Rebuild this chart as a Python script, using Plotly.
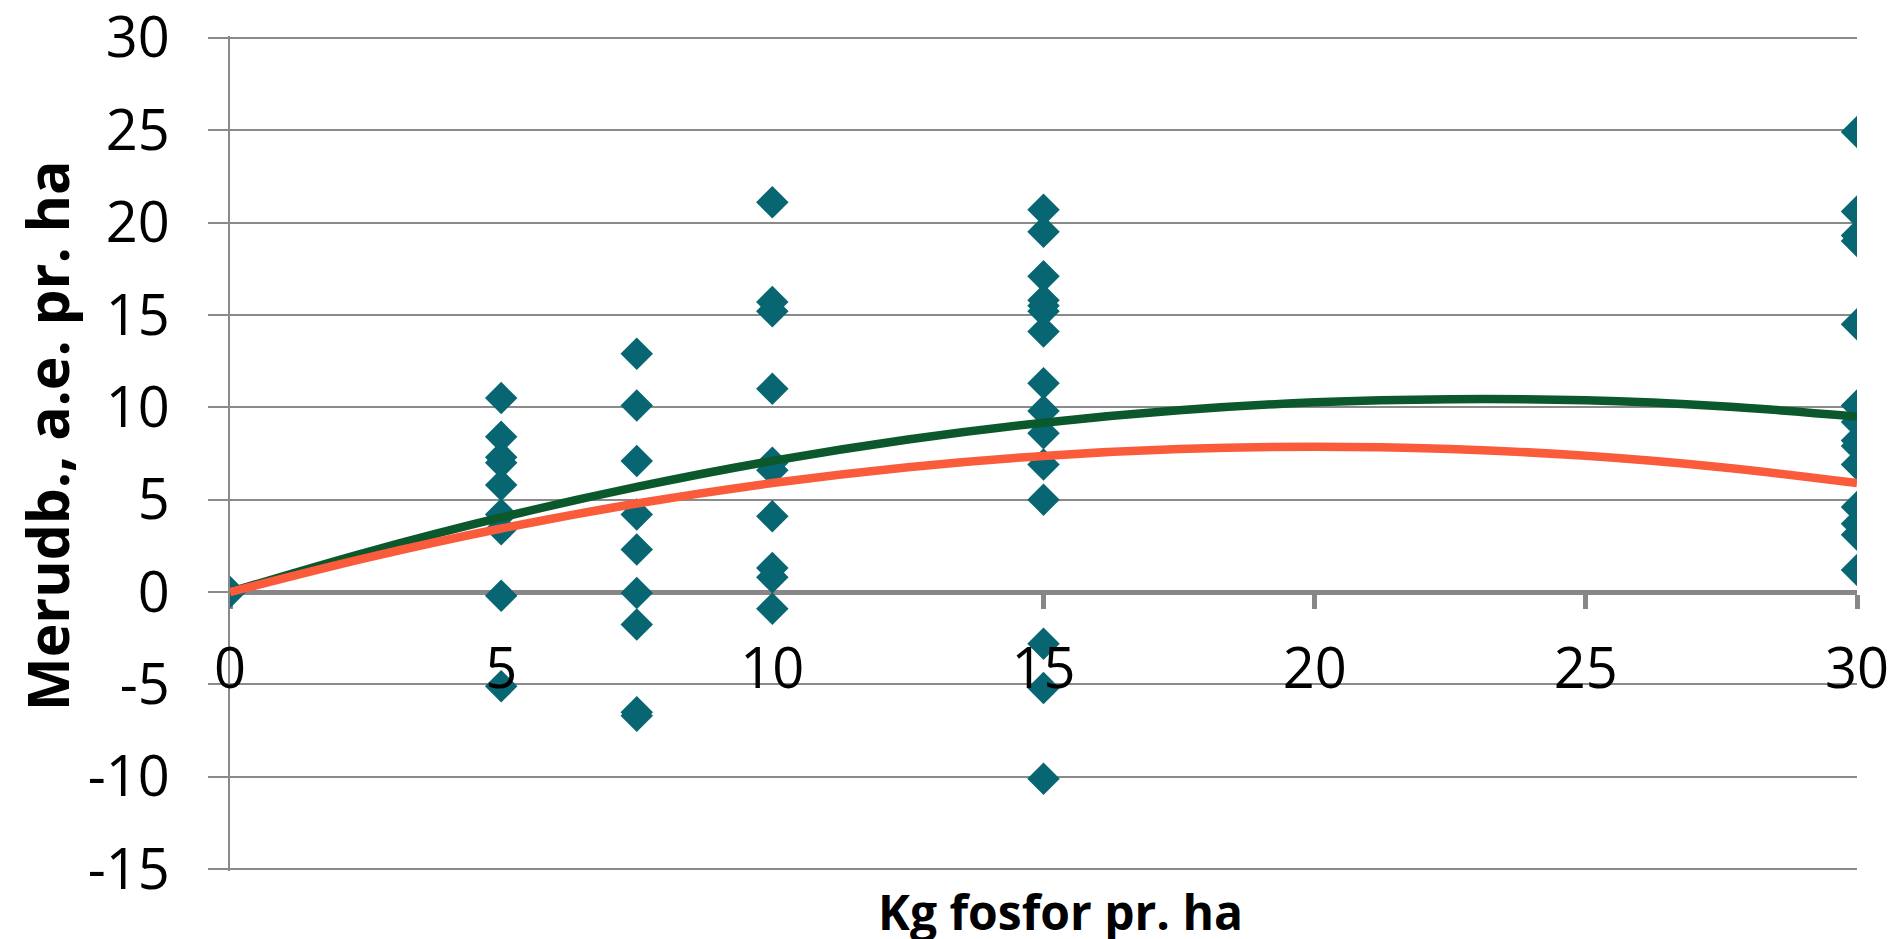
import plotly.graph_objects as go

# --- data ---
x_levels = [0, 5, 7.5, 10, 15, 30]
y_at_0 = [0.0]
y_at_5 = [10.5, 8.4, 7.3, 7.0, 5.8, 4.2, 3.4, -0.2, -5.1]
y_at_7_5 = [12.9, 10.1, 7.1, 4.2, 2.3, -0.05, -1.75, -6.5, -6.7]
y_at_10 = [21.1, 15.7, 15.2, 11.0, 7.0, 6.6, 4.1, 1.3, 0.8, -0.9]
y_at_15 = [20.7, 19.5, 17.1, 15.8, 15.5, 15.2, 14.1, 11.3, 9.8, 8.6, 6.9, 5.0, -2.8, -5.2, -10.1]
y_at_30 = [24.9, 20.6, 19.3, 19.0, 14.5, 10.1, 9.2, 8.2, 7.9, 6.9, 4.6, 3.7, 3.1, 1.2]

# trend curves at these x positions
curve_x = [0, 2.5, 5, 7.5, 10, 12.5, 15, 17.5, 20, 22.5, 25, 27.5, 30]
green_y = [0, 2.14, 4.04, 5.69, 7.1, 8.26, 9.17, 9.84, 10.27, 10.44, 10.38, 10.06, 9.5]
orange_y = [0, 1.84, 3.44, 4.79, 5.9, 6.76, 7.37, 7.74, 7.87, 7.74, 7.38, 6.76, 5.9]

x_tick_vals = [0, 5, 10, 15, 20, 25, 30]
y_tick_vals = [-15, -10, -5, 0, 5, 10, 15, 20, 25, 30]

x_title = "Kg fosfor pr. ha"
y_title = "Merudb., a.e. pr. ha"

groups = [y_at_0, y_at_5, y_at_7_5, y_at_10, y_at_15, y_at_30]
pts_x, pts_y = [], []
for xv, ys in zip(x_levels, groups):
    for yv in ys:
        pts_x.append(xv)
        pts_y.append(yv)

TEAL = "#086672"
GREEN = "#0B582D"
ORANGE = "#FA5B3B"
GRID = "#8A8A8A"
FONT = "Open Sans"

Y_RANGE = [-15.1, 30.1]
x_axis_pos = (0 - Y_RANGE[0]) / (Y_RANGE[1] - Y_RANGE[0])

fig = go.Figure()
fig.add_trace(go.Scatter(x=pts_x, y=pts_y, mode="markers",
                         marker=dict(symbol="diamond", size=25, color=TEAL,
                                     line=dict(width=0)),
                         showlegend=False))
fig.add_trace(go.Scatter(x=curve_x, y=green_y, mode="lines",
                         line=dict(color=GREEN, width=8.5, shape="spline"),
                         showlegend=False))
fig.add_trace(go.Scatter(x=curve_x, y=orange_y, mode="lines",
                         line=dict(color=ORANGE, width=8.5, shape="spline"),
                         showlegend=False))
# invisible trace to carry the overlay axis that holds the x tick labels
fig.add_trace(go.Scatter(x=[None], y=[None], xaxis="x2", yaxis="y",
                         mode="markers", showlegend=False, hoverinfo="skip"))

fig.update_layout(
    width=1896, height=939,
    margin=dict(l=222, r=47, t=28, b=76, autoexpand=False),
    paper_bgcolor="white", plot_bgcolor="white",
    font=dict(family=FONT, color="black"),
    xaxis=dict(range=[0, 30], tickvals=x_tick_vals, showticklabels=False,
               anchor="free", position=x_axis_pos, automargin=False,
               showline=True, linecolor="#878787", linewidth=5,
               ticks="outside", ticklen=14, tickwidth=5, tickcolor="#878787",
               showgrid=False, zeroline=False, layer="below traces"),
    xaxis2=dict(range=[0, 30], tickvals=x_tick_vals,
                ticktext=[str(v) for v in x_tick_vals],
                overlaying="x", anchor="free", position=x_axis_pos,
                automargin=False,
                showline=False, ticks="outside", ticklen=16, tickcolor="rgba(0,0,0,0)",
                tickwidth=1, showgrid=False, zeroline=False,
                ticklabelstandoff=12, ticklabeloverflow="allow",
                tickfont=dict(family=FONT, size=56, color="black"),
                layer="above traces"),
    yaxis=dict(range=Y_RANGE, tickvals=y_tick_vals,
               ticktext=[str(v) for v in y_tick_vals], automargin=False,
               showline=True, linecolor=GRID, linewidth=2,
               ticks="outside", ticklen=20, tickwidth=2, tickcolor=GRID,
               ticklabelstandoff=27, ticklabeloverflow="allow",
               showgrid=True, gridcolor=GRID, gridwidth=2,
               zeroline=False, layer="below traces",
               tickfont=dict(family=FONT, size=56, color="black")),
    annotations=[
        dict(text=f"<b>{x_title}</b>", xref="paper", yref="paper",
             x=0.5105, y=-0.0491, xanchor="center", yanchor="middle",
             showarrow=False, font=dict(family=FONT, size=48, color="black")),
        dict(text=f"<b>{y_title}</b>", xref="paper", yref="paper",
             x=-0.1125, y=0.522, xanchor="center", yanchor="middle",
             textangle=-90,
             showarrow=False, font=dict(family=FONT, size=57, color="black")),
    ],
)

fig.write_html("out.html")
